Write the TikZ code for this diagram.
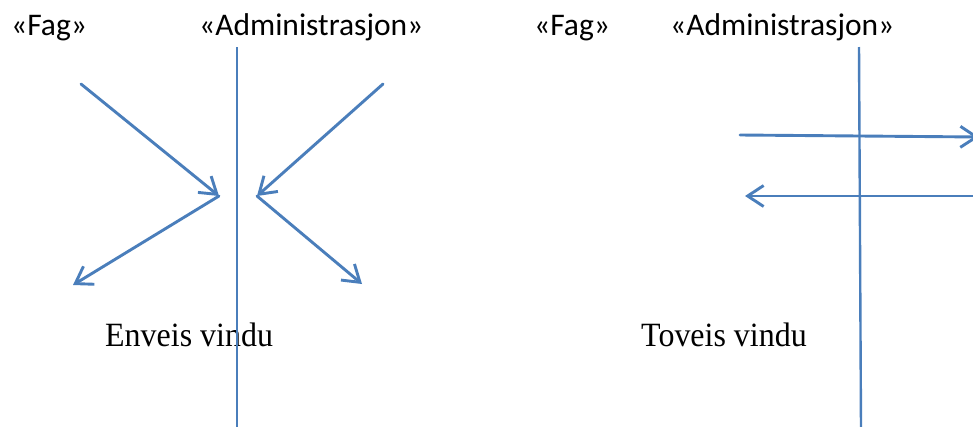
\documentclass[tikz,border=0pt]{standalone}
\usepackage{fontspec}
\setmainfont{Liberation Serif}
\newfontfamily\calib{Carlito}
\usetikzlibrary{arrows.meta}
\definecolor{offblue}{RGB}{74,126,187}
\tikzset{
  conn/.style={draw=offblue, line width=2.9pt, line cap=round, line join=round},
  vline/.style={draw=offblue, line width=2.4pt},
  arr/.style={conn, -{Straight Barb[length=16pt,width=21pt,line width=2.9pt]}},
  headtext/.style={anchor=base west, inner sep=0pt, font=\calib\fontsize{31.5}{38}\selectfont},
  captext/.style={anchor=base west, inner sep=0pt, font=\fontsize{34}{40}\selectfont}
}
\newcommand{\hsqueeze}[1]{\scalebox{0.94}[1]{#1}}
\begin{document}
\begin{tikzpicture}[x=1pt,y=-1pt]
\useasboundingbox (0,0) rectangle (973,426);
\clip (0,0) rectangle (973,426);
% texts
\node[headtext] (fag1) at (11,35.5) {«Fag»};
\node[headtext] (adm1) at (199,35.5) {«Administrasjon»};
\node[headtext] (fag2) at (534,35.5) {«Fag»};
\node[headtext] (adm2) at (670,35.5) {«Administrasjon»};
\node[captext] (env) at (105,346) {\hsqueeze{Enveis vindu}};
\node[captext] (tov) at (641,346) {\hsqueeze{Toveis vindu}};
% left diagram
\coordinate (l1top) at (237,47);
\coordinate (l1bot) at (237,430);
\draw[vline] (l1top) -- (l1bot);
\coordinate (a1s) at (81,84);
\coordinate (a1t) at (219,196);
\coordinate (a2t) at (73,285);
\coordinate (a3s) at (383,84);
\coordinate (a3t) at (257,196);
\coordinate (a4t) at (362,284);
\draw[arr] (a1s) -- (a1t);
\draw[arr] (a1t) -- (a2t);
\draw[arr] (a3s) -- (a3t);
\draw[arr] (a3t) -- (a4t);
% right diagram
\coordinate (l2top) at (859,47);
\coordinate (l2bot) at (861,430);
\draw[vline] (l2top) -- (l2bot);
\coordinate (b1s) at (740,135);
\coordinate (b1t) at (979,137);
\coordinate (b2s) at (985,196);
\coordinate (b2t) at (745,196);
\draw[arr] (b1s) -- (b1t);
\draw[arr] (b2s) -- (b2t);
\end{tikzpicture}
\end{document}
